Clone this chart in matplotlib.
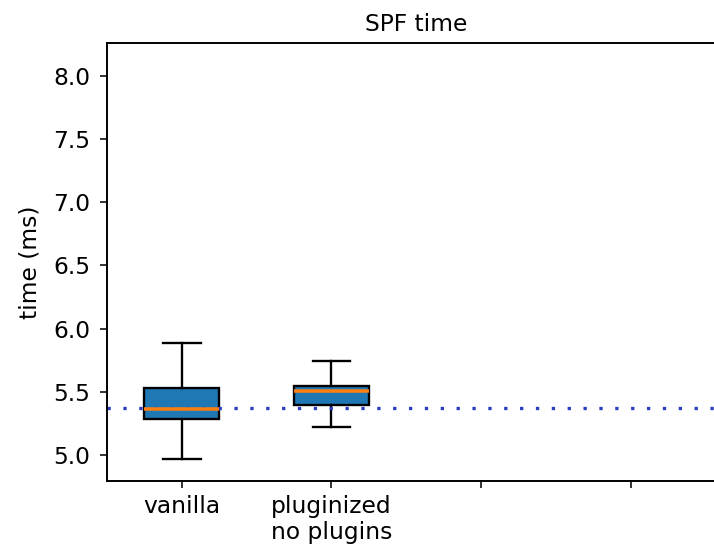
import matplotlib
matplotlib.use("Agg")
import matplotlib.pyplot as plt

# box statistics (ms)
labels = ["vanilla", "pluginized\nno plugins"]
whislo = [4.97, 5.22]
q1 = [5.285, 5.396]
med = [5.362, 5.506]
q3 = [5.528, 5.548]
whishi = [5.884, 5.746]
baseline = 5.374

tick_pos = [1, 2, 3, 4]
tick_labels = labels + ["", ""]

plt.rcParams["font.size"] = 12
plt.rcParams["axes.linewidth"] = 1.0

fig = plt.figure(figsize=(714 / 140, 547 / 140), dpi=140)
ax = fig.add_axes([107 / 714, 1 - 481 / 547, 618 / 714, 438 / 547])

stats = []
for i in range(len(labels)):
    stats.append({"whislo": whislo[i], "q1": q1[i], "med": med[i],
                  "q3": q3[i], "whishi": whishi[i], "fliers": []})

ax.bxp(stats, positions=[1, 2], widths=0.5, patch_artist=True,
       boxprops=dict(facecolor="#1f77b4", edgecolor="black", linewidth=1.2),
       whiskerprops=dict(linewidth=1.2),
       capprops=dict(linewidth=1.2),
       medianprops=dict(color="#ff7f0e", linewidth=1.8))

# reference level
ax.axhline(baseline, color="#2b3fc0", linewidth=1.7, linestyle=(0, (1, 3.8)))

ax.set_xticks(tick_pos)
ax.set_xticklabels(tick_labels)
ax.set_xlim(0.5, 4.63)
ax.set_ylim(4.794, 8.261)
ax.set_yticks([5.0, 5.5, 6.0, 6.5, 7.0, 7.5, 8.0])
ax.tick_params(axis="y", pad=5)
ax.set_ylabel("time (ms)", labelpad=6)
ax.set_title("SPF time", fontsize=12)

fig.savefig("out.png", dpi=140)
